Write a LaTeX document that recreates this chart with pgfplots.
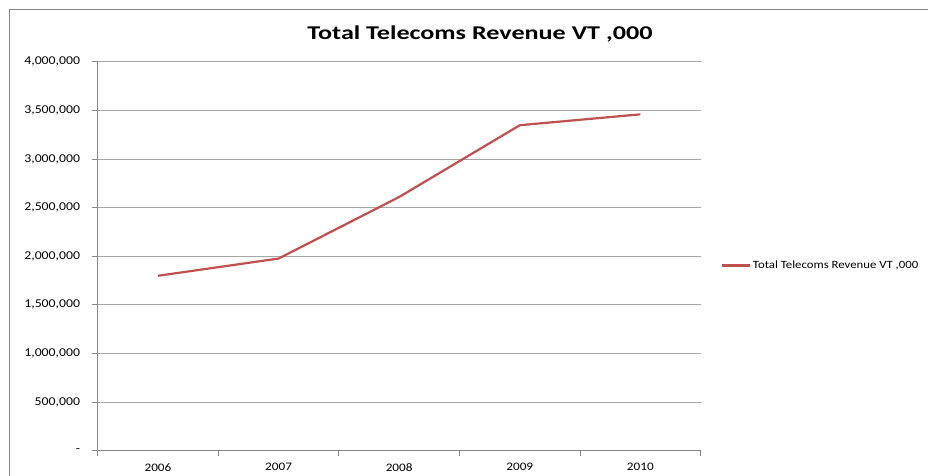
\documentclass[border=0pt]{standalone}
\usepackage{pgfplots}
\pgfplotsset{compat=1.18}
\usepackage{fontspec}
\setmainfont{Carlito}[FakeStretch=1.15]
\newfontfamily\titlefont{Carlito}[FakeStretch=1.34]
\definecolor{linered}{HTML}{C0504D}
\definecolor{axgray}{HTML}{868686}
\definecolor{gridgray}{HTML}{A6A6A6}
\begin{document}
\begin{tikzpicture}[x=1pt,y=1pt]
\useasboundingbox (0,0) rectangle (928,476);
\draw[axgray, line width=1.1] (9.5,-5) -- (9.5,466.5) -- (940,466.5);
\node[font=\titlefont\fontsize{19.5}{23}\selectfont\bfseries] at (480,442.5) {Total Telecoms Revenue VT ,000};
\begin{axis}[
  at={(81,26)}, anchor=south west,
  scale only axis, width=603pt, height=389pt,
  xmin=-0.5, xmax=4.5, ymin=0, ymax=4000000,
  scaled y ticks=false,
  axis x line*=bottom, axis y line*=left,
  axis line style={axgray, line width=1.1, -},
  xtick={0,1,2,3,4},
  xticklabels={2006,2007,2008,2009,2010},
  major x tick style={draw=none},
  minor xtick={-0.5,0.5,1.5,2.5,3.5,4.5},
  minor x tick style={axgray, line width=0.8},
  minor tick length=5pt,
  ytick={0,500000,1000000,1500000,2000000,2500000,3000000,3500000,4000000},
  yticklabels={{-},{500,000},{1,000,000},{1,500,000},{2,000,000},{2,500,000},{3,000,000},{3,500,000},{4,000,000}},
  major y tick style={axgray, line width=0.8},
  major tick length=6pt,
  tick align=outside,
  ymajorgrids, grid style={gridgray, line width=0.9},
  xticklabel style={font=\fontsize{11.5}{13}\selectfont, text=black, yshift=-3pt},
  yticklabel style={font=\fontsize{12}{14}\selectfont, text=black, xshift=-8pt},
  legend style={draw=none, fill=none, at={(axis description cs:1.028,0.476)}, anchor=west, font=\fontsize{11.1}{13}\selectfont},
  legend image code/.code={\draw[#1] (0pt,0pt) -- (28pt,0pt);},
  clip=false,
]
\addplot[linered, line width=2.2pt] coordinates {
  (0,1799000) (1,1976000) (2,2609000) (3,3347000) (4,3459000)
};
\addlegendentry{Total Telecoms Revenue VT ,000}
\end{axis}
\end{tikzpicture}
\end{document}
